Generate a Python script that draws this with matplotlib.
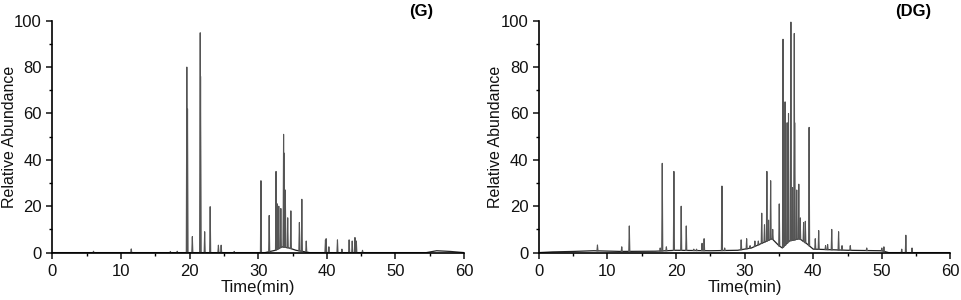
import matplotlib
matplotlib.use("Agg")
import matplotlib.pyplot as plt
import numpy as np

plt.rcParams['font.family'] = ['Liberation Sans', 'DejaVu Sans']

# peak tables: retention time (min), relative abundance
g_times = [6.0, 11.5, 17.2, 18.2, 19.6, 19.7, 20.4, 21.55, 21.6, 22.2, 23.0, 24.2, 24.6,
           26.5, 30.4, 31.6, 32.6, 32.8, 33.0, 33.3, 33.7, 33.75, 33.95, 34.3, 34.76,
           36.0, 36.36, 37.0, 39.8, 39.9, 40.3, 41.55, 42.2, 43.25, 43.7, 44.1, 44.3, 45.2]
g_heights = [0.6, 1.6, 0.5, 0.6, 80, 62, 6.9, 94.8, 76, 9, 19.8, 3.2, 3.2,
             0.5, 31, 16, 35, 21, 20, 19, 51, 43, 27, 15, 18,
             13, 23, 5, 5.5, 6, 2.5, 5.5, 1.5, 5.5, 5, 6.5, 5, 1]

dg_times = [8.56, 12.1, 13.2, 17.7, 18.0, 18.6, 19.7, 20.76, 21.5, 22.6, 23.0, 23.8, 24.1,
            26.7, 27.1, 29.5, 30.3, 30.8, 31.5, 32.0, 32.5, 32.9, 33.25, 33.5, 33.8, 34.1,
            35.05, 35.6, 35.9, 36.2, 36.4, 36.75, 37.0, 37.24, 37.3, 37.6, 37.9, 38.1,
            38.6, 38.85, 39.4, 40.3, 40.8, 41.8, 42.1, 42.7, 43.7, 44.2, 45.4, 47.8,
            50.0, 50.3, 52.9, 53.5, 54.4]
dg_heights = [3.3, 2.5, 11.5, 2, 38.5, 2.5, 35, 20, 11.5, 1.5, 1.5, 4, 6,
              28.7, 2, 5.5, 6, 3, 5, 5, 17, 12, 35, 14, 31, 10,
              21, 92, 65, 56, 60, 99.4, 28, 94.5, 56, 27, 29.5, 15,
              13, 13.5, 54, 6, 9.5, 3, 3.5, 10, 9, 3, 3, 2,
              2, 2.5, 1.5, 7.5, 2]

# baselines: (time, level)
g_base_t = [0, 19, 31, 32.5, 33.5, 34.5, 35.5, 36.5, 37.5, 45, 54.5, 56, 58, 60]
g_base_y = [0, 0, 0, 1, 2.5, 2, 1, 0.5, 0, 0, 0, 0.8, 0.5, 0]
dg_base_t = [0, 2, 5, 8, 12, 17, 20, 25, 29, 31, 32.5, 34, 35, 35.5, 36.5, 38, 39, 40,
             45, 50, 51, 55, 60]
dg_base_y = [0, 0.3, 0.5, 0.8, 0.5, 0.6, 1, 0.8, 1, 2, 4, 6, 3, 2, 5, 6, 4, 1.5,
             1, 0.8, 0, 0, 0]

fig = plt.figure(figsize=(9.62, 3.0), dpi=100)
ax1 = fig.add_axes([0.0544, 0.158, 0.428, 0.773])
ax2 = fig.add_axes([0.560, 0.158, 0.428, 0.773])


def draw(ax, times, heights, bt, by, color, label):
    ax.plot(bt, by, color='#222222', lw=0.9)
    w = 0.08
    for t, h in zip(times, heights):
        b = np.interp(t, bt, by)
        ax.plot([t - w, t, t + w], [b, h, b], color=color, lw=0.8)
    ax.set_xlim(0, 60)
    ax.set_ylim(0, 100)
    ax.set_xticks(range(0, 61, 10))
    ax.set_xticks(range(5, 60, 10), minor=True)
    ax.set_yticks(range(0, 101, 20))
    ax.set_yticks(range(10, 100, 20), minor=True)
    for s in ['top', 'right']:
        ax.spines[s].set_visible(False)
    for s in ['left', 'bottom']:
        ax.spines[s].set_linewidth(1.2)
    ax.tick_params(which='major', direction='out', length=4, width=1.1,
                   labelsize=12, colors='#111111', pad=3.5)
    ax.tick_params(axis='x', which='major', pad=4.5)
    ax.tick_params(which='minor', direction='out', length=2.5, width=1.0)
    ax.set_xlabel('Time(min)', fontsize=12, color='#111111')
    ax.xaxis.set_label_coords(0.5, -0.12)
    ax.set_ylabel('Relative Abundance', fontsize=11.5, color='#111111')
    ax.yaxis.set_label_coords(-0.086, 0.5)
    ax.text(label[1], 1.04, label[0], transform=ax.transAxes, fontsize=12,
            fontweight='bold', ha='center', va='center')


draw(ax1, g_times, g_heights, g_base_t, g_base_y, '#555555', ('(G)', 0.895))
draw(ax2, dg_times, dg_heights, dg_base_t, dg_base_y, '#555555', ('(DG)', 0.909))

fig.savefig('out.png', dpi=100)
